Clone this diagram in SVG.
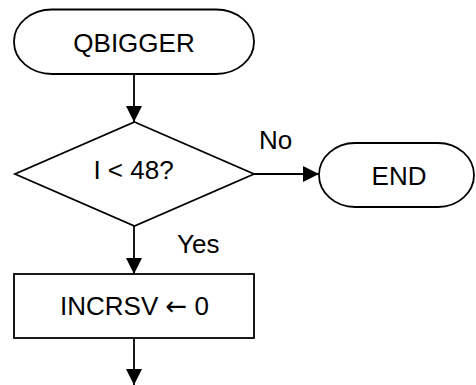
<svg xmlns="http://www.w3.org/2000/svg" width="476" height="385" viewBox="0 0 476 385">
  <style>
    .shape { fill: #ffffff; stroke: #000000; stroke-width: 1.8; }
    .line { fill: none; stroke: #000000; stroke-width: 1.8; }
    .label { font-family: "Liberation Sans", Arial, sans-serif; font-size: 26px; fill: #000000; }
    .mid { text-anchor: middle; }
    .sym { font-family: "DejaVu Sans", sans-serif; }
  </style>
  <defs>
    <marker id="arrow" viewBox="0 0 16 16" refX="16" refY="8" markerWidth="16" markerHeight="16" markerUnits="userSpaceOnUse" orient="auto">
      <path d="M0,0 L16,8 L0,16 Z" fill="#000000"/>
    </marker>
  </defs>
  <rect width="476" height="385" fill="#ffffff"/>

  <g id="connectors">
    <line class="line" x1="134" y1="74" x2="134" y2="122" marker-end="url(#arrow)"/>
    <line class="line" x1="254" y1="174" x2="319" y2="174" marker-end="url(#arrow)"/>
    <line class="line" x1="134" y1="226" x2="134" y2="274" marker-end="url(#arrow)"/>
    <line class="line" x1="134" y1="338" x2="134" y2="385" marker-end="url(#arrow)"/>
    <text class="label" x="259" y="149">No</text>
    <text class="label" x="177" y="253">Yes</text>
  </g>

  <g id="start">
    <rect class="shape" x="14" y="9.5" width="240" height="64.5" rx="38" ry="32"/>
    <text class="label mid" x="134" y="52">QBIGGER</text>
  </g>

  <g id="decision">
    <polygon class="shape" points="134.5,122 254,174 134.5,226 15,174"/>
    <text class="label mid" x="133.5" y="179">I &lt; 48?</text>
  </g>

  <g id="end">
    <rect class="shape" x="319" y="143" width="155" height="64" rx="36" ry="32"/>
    <text class="label mid" x="399" y="185">END</text>
  </g>

  <g id="reset">
    <rect class="shape" x="14" y="274" width="240" height="64"/>
    <text class="label mid" x="134.5" y="315">INCRSV <tspan class="sym">←</tspan> 0</text>
  </g>
</svg>
